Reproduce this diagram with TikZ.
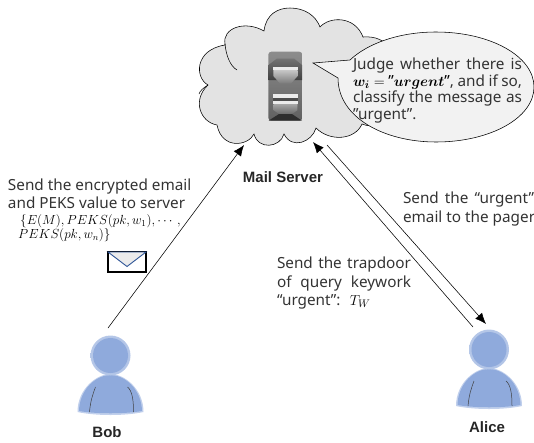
\documentclass[tikz,border=0pt]{standalone}
\usepackage{amsmath}
\usepackage{bm}
\usepackage{fontspec}
\setmainfont{Noto Sans}
\newfontfamily\namefont{Liberation Sans}
\usetikzlibrary{arrows.meta,shapes.geometric}
\definecolor{personblue}{HTML}{8FAADC}
\definecolor{cloudgray}{HTML}{E3E3E3}
\definecolor{calloutfill}{HTML}{F2F2F2}
\definecolor{envblue}{HTML}{2F5597}
\tikzset{
  x=1pt,y=-1pt,
  lbl/.style={anchor=base west,inner sep=0pt,outer sep=0pt,font=\fontsize{15.3}{17}\selectfont,text=black!80},
  namelbl/.style={anchor=center,inner sep=0pt,font=\fontsize{15}{17}\selectfont\namefont\bfseries,text=black!85},
  mth/.style={anchor=west,inner sep=0pt,scale=0.915,font=\fontsize{14}{15}\selectfont},
  conn/.style={draw=black,line width=0.55pt,-{Latex[length=11pt,width=9pt]}},
  ink/.style={draw=black,line width=0.55pt},
}
\newcommand{\personfig}[2]{%
  \begin{scope}[shift={(#1,#2)}]
    \path[fill=personblue!55!white] (-33,37) .. controls (-33,14) and (-14,-1) .. (0,-1) .. controls (14,-1) and (33,14) .. (33,37) .. controls (15,41) and (-15,41) .. (-33,37) -- cycle;
    \path[fill=personblue] (-31.5,36) .. controls (-31,14) and (-14,0) .. (0,0) .. controls (14,0) and (31,14) .. (31.5,36) .. controls (15,39) and (-15,39) .. (-31.5,36) -- cycle;
    \draw[black!75,line width=0.5pt] (-15,12) .. controls (-18,20) and (-20,26) .. (-21,37);
    \draw[black!75,line width=0.5pt] (17,12) .. controls (22,16) and (23,26) .. (23,37);
    \shade[inner color=personblue,outer color=personblue!65!white] (0,-19.5) circle[radius=20];
    \fill[personblue] (0,-19.5) circle[radius=17.5];
  \end{scope}}
\begin{document}
\begin{tikzpicture}
\useasboundingbox (0,0) rectangle (534,442);
\clip (0,0) rectangle (534,442);
% cloud
\draw[ink,fill=cloudgray] (225,44)
  .. controls (222,28) and (245,20) .. (264,31)
  .. controls (266,14) and (278,8) .. (290,8)
  .. controls (305,8) and (316,16) .. (320,27)
  .. controls (330,16) and (355,16) .. (363,37)
  .. controls (375,36) and (385,40) .. (392,50)
  -- (390,115)
  .. controls (380,125) and (372,128) .. (362,124)
  .. controls (355,140) and (330,142) .. (316,128)
  .. controls (312,142) and (292,150) .. (284,134)
  .. controls (280,148) and (258,150) .. (254,134)
  .. controls (248,146) and (222,150) .. (217,125)
  .. controls (200,122) and (192,100) .. (208,85)
  .. controls (195,78) and (194,50) .. (225,45) -- cycle;
\draw[ink] (225,44) .. controls (226,55) and (230,66) .. (237,70);
\draw[ink] (208,85) .. controls (203,88) and (200,91) .. (199,94);
% server
\node[inner sep=0pt,minimum width=34pt,minimum height=69pt] (server) at (285.3,86.2) {};
\shade[top color=black!45,bottom color=black!62,rounded corners=3pt] (268.3,120.7) -- (268.3,51.7) -- (302.3,51.7) -- (302.3,120.7) -- cycle;
\shade[top color=black!55,bottom color=black!75] (268.5,65) -- (277,58.5) -- (294,58.5) -- (302,65) -- (302,80) -- (268.5,80) -- cycle;
\shade[top color=black!22,bottom color=black!52] (273.3,70) -- (297.7,70) -- (297.7,76) -- (291,83.5) -- (280,83.5) -- (273.3,76) -- cycle;
\fill[white!92!black] (273.3,67.3) rectangle (297.7,70);
\fill[black!70] (273.3,94) rectangle (297.7,110);
\shade[top color=black!35,bottom color=black!58] (273.3,104) -- (297.7,104) -- (297.7,110) -- (292,114) -- (279,114) -- (273.3,110) -- cycle;
\fill[white!92!black] (273.3,94) rectangle (297.7,97.5);
\fill[white!92!black] (273.3,101) rectangle (297.7,104);
\fill[black!82] (268.5,120.7) -- (279,114) -- (292,114) -- (302,120.7) -- cycle;
% callout
\draw[ink,fill=calloutfill] (350,60) -- (313,63) -- (338,78)
  .. controls (338,118) and (385,142) .. (436,142)
  .. controls (490,142) and (534,118) .. (534,87)
  .. controls (534,56) and (490,32) .. (436,32)
  .. controls (400,32) and (368,43) .. (350,60) -- cycle;
\node[lbl] (judge) at (353,69) {\makebox[169pt][s]{Judge whether there is}};
\node[lbl] (judge2) at (353,86) {\makebox[169pt][s]{\textcolor{black}{$\bm{w_i}=$ "$\bm{urgent}$"}, and if so,}};
\node[lbl] (judge3) at (353,102) {\makebox[169pt][s]{classify the message as}};
\node[lbl] (judge4) at (353,119) {"urgent".};
% names
\node[namelbl] (mail) at (283,177) {Mail Server};
\node[namelbl] (bobname) at (107,432) {Bob};
\node[namelbl] (alicename) at (487,427) {Alice};
% persons
\personfig{110.5}{375}
\personfig{489}{369}
\node[inner sep=0pt,minimum width=64pt,minimum height=72pt] (bob) at (110.5,376) {};
\node[inner sep=0pt,minimum width=66pt,minimum height=78pt] (alice) at (489,368) {};
% connectors
\coordinate (bobStart) at (108,328);
\coordinate (cloudA) at (244,145);
\coordinate (aliceStart) at (473,327);
\coordinate (cloudB) at (313,142);
\coordinate (cloudC) at (327,145);
\coordinate (aliceEnd) at (486,324);
\draw[conn] (bobStart) -- (cloudA);
\draw[conn] (aliceStart) -- (cloudB);
\draw[conn] (cloudC) -- (aliceEnd);
% left text
\node[lbl] (t1) at (8,190) {Send the encrypted email};
\node[lbl] (t2) at (8,208) {and PEKS value to server};
\node[mth] (t3) at (20,221) {$\{E(M),PEKS(pk,w_1),\cdots,$};
\node[mth] (t4) at (18,235) {$PEKS(pk,w_n)\}$};
% envelope
\draw[black,line width=1.1pt,fill=white] (108,252) rectangle (146,272);
\draw[envblue,line width=0.9pt,fill=black!8] (108,252) -- (127,266.5) -- (146,252) -- cycle;
\node[inner sep=0pt,minimum width=38pt,minimum height=20pt] (env) at (127,262) {};
% right text
\node[lbl] (u1) at (403,203) {\makebox[131pt][s]{Send the “urgent”}};
\node[lbl] (u2) at (403,222) {email to the pager};
\node[lbl] (v1) at (277,268) {\makebox[134pt][s]{Send the trapdoor}};
\node[lbl] (v2) at (277,287) {\makebox[134pt][s]{of query keywork}};
\node[lbl] (v3) at (277,305) {“urgent”: \ \textcolor{black}{$T_W$}};
\end{tikzpicture}
\end{document}
